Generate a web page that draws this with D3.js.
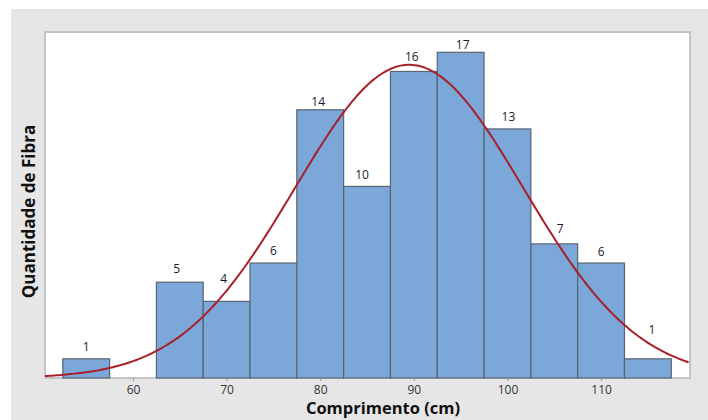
<!DOCTYPE html>
<html><head><meta charset="utf-8">
<script src="https://cdn.jsdelivr.net/npm/d3@7"></script>
<style>body{margin:0;background:#fff;}svg{display:block;}</style>
</head><body>
<script>
const binCenters = [55, 60, 65, 70, 75, 80, 85, 90, 95, 100, 105, 110, 115];
const counts     = [1, 0, 5, 4, 6, 14, 10, 16, 17, 13, 7, 6, 1];
const xTicks = [60, 70, 80, 90, 100, 110];
const binWidth = 5;
const fitMean = 89.5, fitSd = 12.2;
const xLabel = "Comprimento (cm)";
const yLabel = "Quantidade de Fibra";

// layout / styling (label nudges per bin, in px)
const labelDx = [0, 0, -3, -3, 0, -2, -5, -2, 2, 1, 6, 0, 4];
const labelDy = [0, 0, 1.5, 10.5, 0.5, -4, 0, 3, -4, 0, 3.5, -0.5, 17.5];

const W = 708, H = 420;
const svg = d3.select("body").append("svg").attr("width", W).attr("height", H);
svg.append("rect").attr("x", 11).attr("y", 9).attr("width", W - 11).attr("height", H - 9).attr("fill", "#e6e6e6");

const L = 45, T = 32, R = 690, B = 378;
const x = d3.scaleLinear().domain([50.6, 119.5]).range([L, R]);
const y = d3.scaleLinear().domain([0, 18.06]).range([B, T]);

svg.append("rect").attr("x", L).attr("y", T).attr("width", R - L).attr("height", B - T)
  .attr("fill", "#fff").attr("stroke", "#c4c4c4").attr("stroke-width", 2);

const data = binCenters.map((c, i) => ({c, n: counts[i], i})).filter(d => d.n > 0);
svg.selectAll("rect.bar").data(data).enter().append("rect").attr("class", "bar")
  .attr("x", d => x(d.c - binWidth / 2)).attr("width", d => x(d.c + binWidth / 2) - x(d.c - binWidth / 2))
  .attr("y", d => y(d.n)).attr("height", d => y(0) - y(d.n))
  .attr("fill", "#7ba7d9").attr("stroke", "#5a6470").attr("stroke-width", 1.2);

// normal fit curve
const total = counts.reduce((a, b) => a + b, 0);
const pts = d3.range(50.6, 119.51, 0.25).map(v => [v,
  total * binWidth / (fitSd * Math.sqrt(2 * Math.PI)) * Math.exp(-0.5 * ((v - fitMean) / fitSd) ** 2)]);
svg.append("path").datum(pts)
  .attr("d", d3.line().x(d => x(d[0])).y(d => y(d[1])))
  .attr("fill", "none").attr("stroke", "#a8202a").attr("stroke-width", 2);

svg.selectAll("text.lab").data(data).enter().append("text").attr("class", "lab")
  .attr("x", d => x(d.c) + labelDx[d.i]).attr("y", d => y(d.n) - 7.5 - labelDy[d.i])
  .attr("text-anchor", "middle").attr("font-family", "Open Sans, sans-serif").attr("font-size", 12)
  .attr("fill", "#1a1a2a").text(d => d.n);

// x axis
const xAxis = d3.axisBottom(x).tickValues(xTicks).tickSize(3).tickPadding(4);
const gx = svg.append("g").attr("transform", `translate(0,${B})`).call(xAxis);
gx.select(".domain").remove();
gx.selectAll("line").attr("stroke", "#999");
gx.selectAll("text").attr("font-family", "Open Sans, sans-serif").attr("font-size", 12).attr("fill", "#333");

svg.append("text").attr("x", 383).attr("y", 414).attr("text-anchor", "middle")
  .attr("font-family", "Open Sans, sans-serif").attr("font-weight", "bold").attr("font-size", 16.5)
  .attr("fill", "#111").text(xLabel);
svg.append("text").attr("transform", "translate(35,211.5) rotate(-90)").attr("text-anchor", "middle")
  .attr("font-family", "Open Sans, sans-serif").attr("font-weight", "bold").attr("font-size", 17)
  .attr("fill", "#111").text(yLabel);
</script>
</body></html>
